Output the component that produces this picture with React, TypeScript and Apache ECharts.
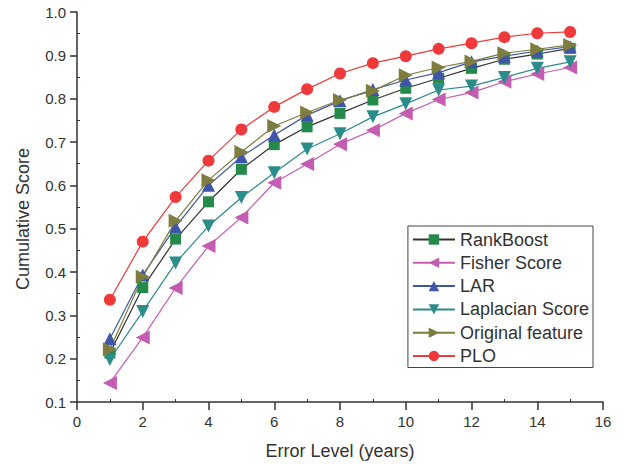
import React, { useEffect, useRef } from "react";
import * as echarts from "echarts";

const errorLevels = [1, 2, 3, 4, 5, 6, 7, 8, 9, 10, 11, 12, 13, 14, 15];
const rankBoost = [0.213, 0.364, 0.476, 0.562, 0.637, 0.694, 0.735, 0.766, 0.797, 0.824, 0.847, 0.870, 0.891, 0.903, 0.916];
const fisherScore = [0.144, 0.249, 0.363, 0.460, 0.526, 0.606, 0.649, 0.695, 0.727, 0.766, 0.798, 0.814, 0.839, 0.857, 0.872];
const lar = [0.246, 0.393, 0.504, 0.600, 0.666, 0.716, 0.762, 0.795, 0.821, 0.843, 0.860, 0.885, 0.898, 0.910, 0.920];
const laplacianScore = [0.198, 0.309, 0.421, 0.506, 0.572, 0.629, 0.684, 0.719, 0.758, 0.788, 0.820, 0.829, 0.849, 0.870, 0.885];
const originalFeature = [0.222, 0.389, 0.518, 0.612, 0.677, 0.737, 0.768, 0.797, 0.818, 0.854, 0.872, 0.886, 0.905, 0.914, 0.924];
const plo = [0.336, 0.470, 0.573, 0.657, 0.729, 0.781, 0.822, 0.858, 0.882, 0.898, 0.915, 0.928, 0.942, 0.951, 0.954];

const seriesNames = ["RankBoost", "Fisher Score", "LAR", "Laplacian Score", "Original feature", "PLO"];

export default function App() {
  const ref = useRef<HTMLDivElement>(null);
  useEffect(() => {
    if (!ref.current) return;
    const chart = echarts.init(ref.current, null, { renderer: "svg" });
    const font = "'Liberation Sans', Arial, sans-serif";
    const mk = (name: string, data: number[], lineColor: string, markColor: string, symbol: string, rotate: number, size: number) => ({
      name,
      type: "line",
      data: errorLevels.map((x, i) => [x, data[i]]),
      symbol,
      symbolSize: size,
      symbolRotate: rotate,
      lineStyle: { color: lineColor, width: 1.2 },
      itemStyle: { color: markColor },
      emphasis: { disabled: true },
    });
    chart.setOption({
      animation: false,
      backgroundColor: "#fff",
      grid: { left: 77, right: 23, top: 12, bottom: 63 },
      legend: {
        orient: "vertical",
        right: 33,
        top: 226,
        data: seriesNames,
        itemWidth: 42,
        itemHeight: 13,
        itemGap: 4.3,
        padding: [4, 4, 2, 4],
        borderColor: "#444",
        borderWidth: 1,
        textStyle: { fontFamily: font, fontSize: 18, lineHeight: 19, color: "#333" },
      },
      xAxis: {
        type: "value",
        min: 0,
        max: 16,
        interval: 2,
        name: "Error Level (years)",
        nameLocation: "middle",
        nameGap: 40,
        nameTextStyle: { fontFamily: font, fontSize: 18, color: "#333" },
        axisLine: { lineStyle: { color: "#333", width: 1.5 } },
        axisTick: { inside: false, length: 8, lineStyle: { color: "#333", width: 1.5 } },
        minorTick: { show: true, splitNumber: 2, length: -3, lineStyle: { color: "#333", width: 1 } },
        axisLabel: { fontFamily: font, fontSize: 15, color: "#333", margin: 12 },
        splitLine: { show: false },
      },
      yAxis: {
        type: "value",
        min: 0.1,
        max: 1.0,
        interval: 0.1,
        name: "Cumulative Score",
        nameLocation: "middle",
        nameGap: 45,
        nameTextStyle: { fontFamily: font, fontSize: 18, color: "#333", padding: [0, 24, 0, 0] },
        axisLine: { show: true, lineStyle: { color: "#333", width: 1.5 } },
        axisTick: { show: true, inside: false, length: 7, lineStyle: { color: "#333", width: 1.5 } },
        minorTick: { show: true, splitNumber: 2, length: -3, lineStyle: { color: "#333", width: 1 } },
        axisLabel: { fontFamily: font, fontSize: 15, color: "#333", margin: 11, formatter: (v: number) => v.toFixed(1) },
        splitLine: { show: false },
      },
      series: [
        mk("RankBoost", rankBoost, "#333333", "#25894a", "rect", 0, 11),
        mk("Fisher Score", fisherScore, "#c45cb2", "#c45cb2", "triangle", 90, 14),
        mk("LAR", lar, "#3f55a8", "#3f55a8", "triangle", 0, 13),
        mk("Laplacian Score", laplacianScore, "#2b8c8a", "#2b8c8a", "triangle", 180, 13),
        mk("Original feature", originalFeature, "#7d7d3f", "#7d7d3f", "triangle", -90, 14),
        mk("PLO", plo, "#f0393a", "#f0393a", "circle", 0, 12),
      ],
    });
    return () => chart.dispose();
  }, []);
  return <div ref={ref} style={{ width: 626, height: 465, position: "absolute", left: 0, top: 0 }} />;
}
